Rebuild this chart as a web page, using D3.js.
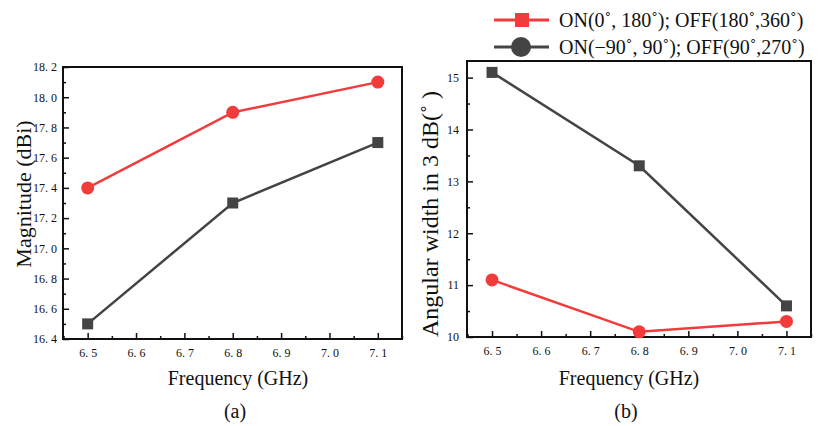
<!DOCTYPE html>
<html>
<head>
<meta charset="utf-8">
<script src="https://cdn.jsdelivr.net/npm/d3@7"></script>
<style>
  body { margin: 0; background: #fff; }
  svg text { font-family: "Times New Roman", "Liberation Serif", "DejaVu Serif", serif; fill: #111; }
</style>
</head>
<body>
<svg id="chart" width="826" height="426"></svg>
<script>
// Frequencies shared by both panels
const frequencies = [6.5, 6.8, 7.1];
const xTicks = [6.5, 6.6, 6.7, 6.8, 6.9, 7.0, 7.1];

// Panel (a): gain magnitude in dBi
const magnitudeOn0 = [17.4, 17.9, 18.1];      // ON(0˚,180˚)
const magnitudeOn90 = [16.5, 17.3, 17.7];     // ON(−90˚,90˚)
const magnitudeTicks = [16.4, 16.6, 16.8, 17.0, 17.2, 17.4, 17.6, 17.8, 18.0, 18.2];

// Panel (b): 3 dB angular width in degrees
const widthOn0 = [11.1, 10.1, 10.3];
const widthOn90 = [15.1, 13.3, 10.6];
const widthTicks = [10, 11, 12, 13, 14, 15];

const seriesNames = ["ON(0˚, 180˚); OFF(180˚,360˚)", "ON(−90˚, 90˚); OFF(90˚,270˚)"];
const RED = "#f23b3b", GRAY = "#444444";
const SERIF = "'Times New Roman', 'Liberation Serif', 'DejaVu Serif', serif";

const svg = d3.select("#chart");

function panel(opt) {
  const x = d3.scaleLinear().domain([6.449, 7.15]).range([opt.left, opt.right]);
  const y = d3.scaleLinear().domain(opt.yDomain).range([opt.bottom, opt.top]);
  const g = svg.append("g");

  // bottom axis, ticks pointing inward
  const xMinor = d3.range(6.45, 7.151, 0.05).map(v => +v.toFixed(2))
    .filter(v => !xTicks.some(t => Math.abs(t - v) < 1e-6));
  g.append("g").attr("transform", `translate(0,${opt.bottom})`)
    .call(d3.axisBottom(x).tickValues(xMinor).tickSize(-3).tickFormat(""))
    .call(s => s.select(".domain").remove())
    .call(s => s.selectAll("line").attr("stroke", "#111").attr("stroke-width", 1.5));
  g.append("g").attr("transform", `translate(0,${opt.bottom})`)
    .call(d3.axisBottom(x).tickValues(xTicks).tickSize(-6).tickPadding(9)
      .tickFormat(d => d3.format(".1f")(d).replace(".", ". ")))
    .call(s => s.select(".domain").remove())
    .call(s => s.selectAll("line").attr("stroke", "#111").attr("stroke-width", 1.5))
    .call(s => s.selectAll("text").attr("font-size", 12).attr("fill", "#222")
      .attr("font-family", SERIF));

  // left axis, ticks pointing inward
  g.append("g").attr("transform", `translate(${opt.left},0)`)
    .call(d3.axisLeft(y).tickValues(opt.yMinor).tickSize(-3).tickFormat(""))
    .call(s => s.select(".domain").remove())
    .call(s => s.selectAll("line").attr("stroke", "#111").attr("stroke-width", 1.5));
  g.append("g").attr("transform", `translate(${opt.left},0)`)
    .call(d3.axisLeft(y).tickValues(opt.yTicks).tickSize(-6).tickPadding(opt.yPad).tickFormat(opt.yFormat))
    .call(s => s.select(".domain").remove())
    .call(s => s.selectAll("line").attr("stroke", "#111").attr("stroke-width", 1.5))
    .call(s => s.selectAll("text").attr("font-size", 12).attr("fill", "#222")
      .attr("font-family", SERIF));

  // frame
  g.append("rect")
    .attr("x", opt.left).attr("y", opt.top)
    .attr("width", opt.right - opt.left).attr("height", opt.bottom - opt.top)
    .attr("fill", "none").attr("stroke", "#111").attr("stroke-width", 2);

  const line = d3.line().x((d, i) => x(frequencies[i])).y(d => y(d));

  // gray series with square markers
  g.append("path").datum(opt.gray).attr("d", line)
    .attr("fill", "none").attr("stroke", GRAY).attr("stroke-width", 2.5);
  g.selectAll(".sq").data(opt.gray).join("rect")
    .attr("x", (d, i) => x(frequencies[i]) - 5.5).attr("y", d => y(d) - 5.5)
    .attr("width", 11).attr("height", 11).attr("fill", GRAY);

  // red series with circle markers
  g.append("path").datum(opt.red).attr("d", line)
    .attr("fill", "none").attr("stroke", RED).attr("stroke-width", 2.5);
  g.selectAll(".ci").data(opt.red).join("circle")
    .attr("cx", (d, i) => x(frequencies[i])).attr("cy", d => y(d))
    .attr("r", 6.5).attr("fill", RED);

  // axis titles and panel caption
  g.append("text").attr("x", opt.titleCx).attr("y", 385).attr("text-anchor", "middle")
    .attr("font-family", SERIF).attr("font-size", 20).text("Frequency (GHz)");
  g.append("text").attr("x", opt.titleCx - 3).attr("y", 418).attr("text-anchor", "middle")
    .attr("font-family", SERIF).attr("font-size", 20).text(opt.caption);
  g.append("text")
    .attr("transform", `translate(${opt.titleX},${opt.titleCy}) rotate(-90)`)
    .attr("text-anchor", "middle").attr("font-family", SERIF)
    .attr("font-size", opt.titleSize).text(opt.yTitle);
}

panel({
  left: 63, right: 402, top: 67, bottom: 339,
  yDomain: [16.4, 18.2],
  yTicks: magnitudeTicks,
  yMinor: d3.range(16.5, 18.2, 0.2).map(v => +v.toFixed(1)),
  yFormat: d => d3.format(".1f")(d).replace(".", ". "),
  yPad: 6,
  red: magnitudeOn0, gray: magnitudeOn90,
  caption: "(a)", yTitle: "Magnitude (dBi)",
  titleX: 31, titleCy: 194, titleSize: 22, titleCx: 238
});

panel({
  left: 467, right: 811, top: 61, bottom: 337,
  yDomain: [10, 15.32],
  yTicks: widthTicks,
  yMinor: [10.5, 11.5, 12.5, 13.5, 14.5],
  yFormat: d3.format("d"),
  yPad: 8,
  red: widthOn0, gray: widthOn90,
  caption: "(b)", yTitle: "Angular width in 3 dB(˚ )",
  titleX: 438, titleCy: 214, titleSize: 24, titleCx: 629
});

// legend
const legend = svg.append("g");
const rows = [
  { name: seriesNames[0], color: RED, shape: "square", y: 20 },
  { name: seriesNames[1], color: GRAY, shape: "circle", y: 47 }
];
rows.forEach(r => {
  legend.append("line").attr("x1", 494).attr("x2", 549).attr("y1", r.y).attr("y2", r.y)
    .attr("stroke", r.color).attr("stroke-width", 3);
  if (r.shape === "square") {
    legend.append("rect").attr("x", 515).attr("y", r.y - 7).attr("width", 14).attr("height", 14)
      .attr("fill", r.color);
  } else {
    legend.append("circle").attr("cx", 521).attr("cy", r.y).attr("r", 10).attr("fill", r.color);
  }
  legend.append("text").attr("x", 559).attr("y", r.y + 7).attr("font-family", SERIF)
    .attr("font-size", 20).text(r.name);
});
</script>
</body>
</html>
